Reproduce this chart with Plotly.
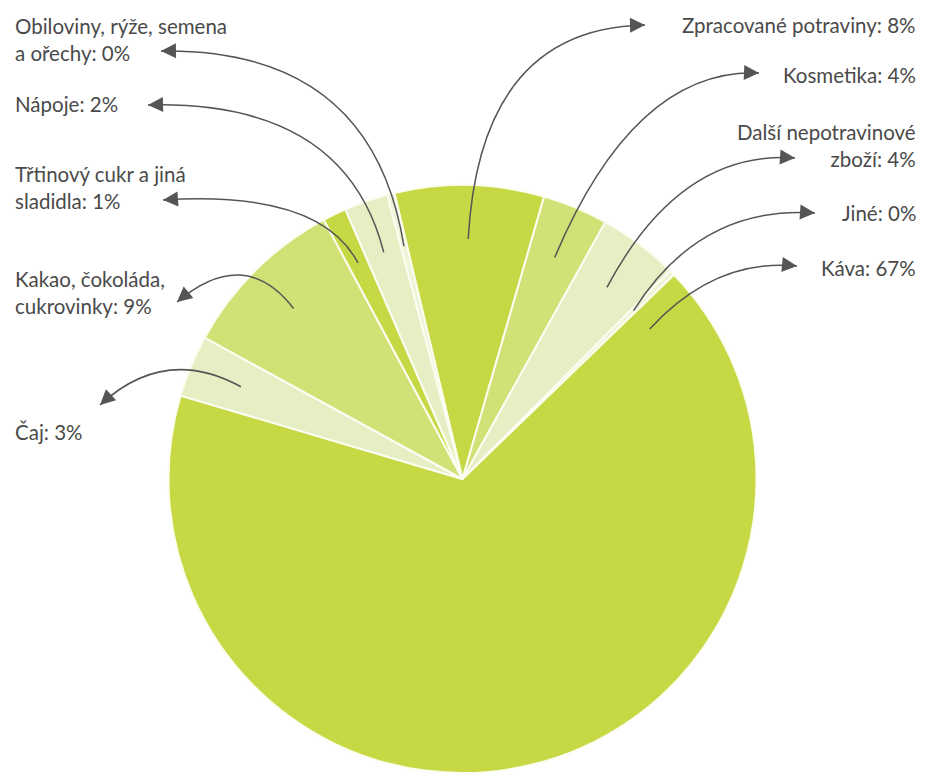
import math
import plotly.graph_objects as go

# Shares of each product group, clockwise from the top of the pie
categories = [
    "Zpracované potraviny",
    "Kosmetika",
    "Další nepotravinové<br>zboží",
    "Jiné",
    "Káva",
    "Čaj",
    "Kakao, čokoláda,<br>cukrovinky",
    "Třtinový cukr a jiná<br>sladidla",
    "Nápoje",
    "Obiloviny, rýže, semena<br>a ořechy",
]
shares = [8.2, 3.6, 4.4, 0.3, 66.8, 3.4, 9.2, 1.3, 2.4, 0.4]

BRIGHT, MID, LIGHT, PALE = "#c6d944", "#d2e176", "#e6eec4", "#eef4d8"
colors = [BRIGHT, MID, LIGHT, PALE, BRIGHT, LIGHT, MID, BRIGHT, LIGHT, PALE]

W, H = 925, 773
START_DEG = -13.4          # where the first slice begins (clockwise from 12 o'clock)
PIE_H = 588                # height of the pie domain in px (from the bottom)
CX, CY = W / 2, H - PIE_H / 2
R = PIE_H / 2
ANCHOR_R = 240             # radius where the leader curves start

# position of the leader start within each slice (0 = slice start, 1 = slice end)
anchor_frac = [0.5, 0.5, 0.5, 0.5, 0.022, 0.5, 0.5, 0.5, 0.5, 0.5]
# label placement: (x, y) in px and side
label_pos = [
    (918, 25, "right"), (918, 75, "right"), (918, 145, "right"),
    (918, 213, "right"), (918, 268, "right"),
    (13, 432, "left"), (13, 293, "left"), (13, 187, "left"),
    (13, 104, "left"), (13, 39, "left"),
]
arrow_tips = [
    (645, 25), (759, 73), (795, 158), (815, 213), (797, 266),
    (100, 405), (177, 302), (163, 200), (148, 105), (161, 51),
]
curve_ctrl = [
    (480, 28), (635, 68), (680, 150), (700, 205), (715, 258),
    (165, 345), (245, 245), (320, 190), (345, 100), (372, 48),
]


def px(x, y):
    return x / W, 1 - y / H


fig = go.Figure(
    go.Pie(
        values=shares,
        labels=categories,
        sort=False,
        direction="clockwise",
        rotation=START_DEG,
        marker=dict(colors=colors, line=dict(color="#fbfdf0", width=2)),
        textinfo="none",
        hoverinfo="label+percent",
        showlegend=False,
        domain=dict(x=[0, 1], y=[0, PIE_H / H]),
    )
)

total = sum(shares)
angle = START_DEG
shapes, annotations = [], []
for i, v in enumerate(shares):
    span = v / total * 360
    a = math.radians(angle + span * anchor_frac[i])
    angle += span
    ax0 = CX + ANCHOR_R * math.sin(a)
    ay0 = CY - ANCHOR_R * math.cos(a)
    tx, ty = arrow_tips[i]
    qx, qy = curve_ctrl[i]

    p0, q, p2 = px(ax0, ay0), px(qx, qy), px(tx, ty)
    shapes.append(dict(
        type="path", xref="paper", yref="paper",
        path=f"M {p0[0]},{p0[1]} Q {q[0]},{q[1]} {p2[0]},{p2[1]}",
        line=dict(color="#555555", width=1.5),
    ))

    # arrowhead aligned with the curve's end tangent
    dx, dy = tx - qx, ty - qy
    n = math.hypot(dx, dy)
    back = 14
    annotations.append(dict(
        x=p2[0], y=p2[1], xref="paper", yref="paper",
        ax=-dx / n * back, ay=-dy / n * back,
        text="", showarrow=True, arrowhead=2, arrowsize=2.0,
        arrowwidth=1.5, arrowcolor="#555555", standoff=0,
    ))

    lx, ly, side = label_pos[i]
    lxp, lyp = px(lx, ly)
    annotations.append(dict(
        x=lxp, y=lyp, xref="paper", yref="paper",
        text=f"{categories[i]}: {round(v)}%",
        showarrow=False, xanchor=side, yanchor="middle", align=side,
        font=dict(family="Lato, sans-serif", size=20.5, color="#4a4a4a"),
    ))

fig.update_layout(
    width=W, height=H,
    margin=dict(l=0, r=0, t=0, b=0),
    paper_bgcolor="white", plot_bgcolor="white",
    shapes=shapes, annotations=annotations,
)

fig.write_html("out.html")
